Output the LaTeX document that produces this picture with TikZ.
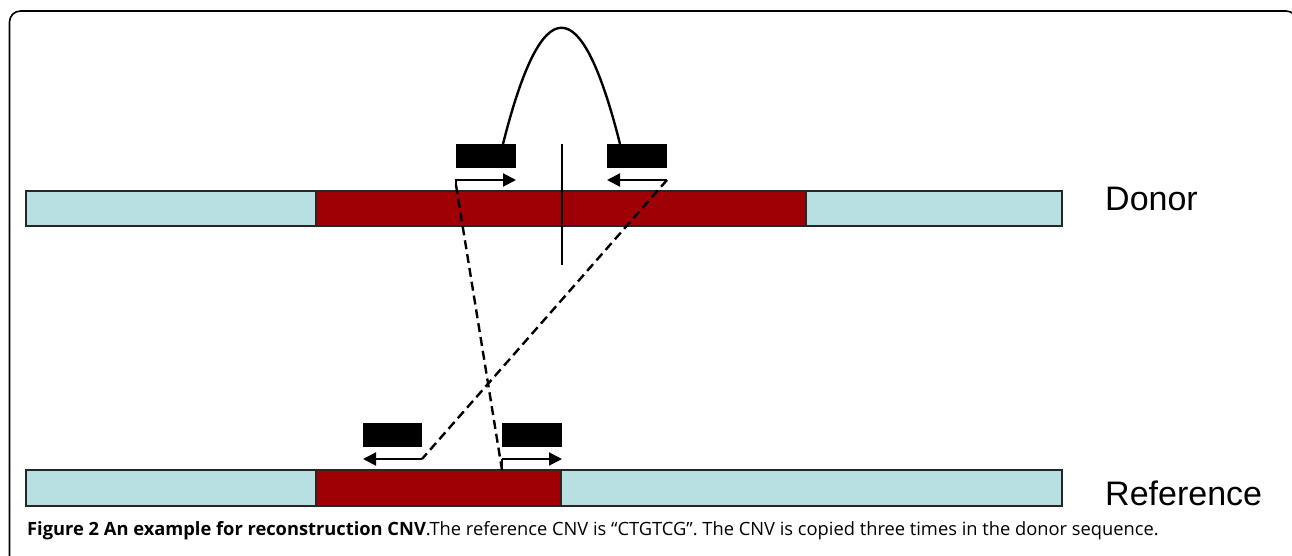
\documentclass[tikz,border=0pt]{standalone}
\usepackage{fontspec}
\setmainfont{Liberation Sans}
\newfontfamily\capfont{Open Sans}
\usetikzlibrary{arrows.meta}
\definecolor{seqblue}{RGB}{184,223,226}
\definecolor{cnvred}{RGB}{158,0,6}
\tikzset{
  seg/.style={draw=black!85, line width=1.5pt, anchor=north west, inner sep=0pt, outer sep=0pt},
  lightseg/.style={seg, fill=seqblue},
  redseg/.style={seg, fill=cnvred},
  readbox/.style={fill=black, anchor=north west, inner sep=0pt, outer sep=0pt, minimum width=60pt, minimum height=24pt},
  readarrow/.style={line width=2pt, -{Triangle[length=13pt,width=13pt]}},
  mapline/.style={line width=2.4pt, dash pattern=on 9pt off 5pt},
  label/.style={font=\fontsize{34}{40}\selectfont, anchor=base west, inner sep=0pt},
}
\begin{document}
\begin{tikzpicture}[x=1pt,y=-1pt]
\useasboundingbox (0,0) rectangle (1292,556);
% frame
\draw[line width=1.6pt, rounded corners=11pt] (9.5,560) -- (9.5,11) -- (1297,11) -- (1297,560);
% donor sequence
\node[lightseg, minimum width=290pt, minimum height=35pt] (d1) at (26,191) {};
\node[redseg, minimum width=490pt, minimum height=35pt] (d2) at (316,191) {};
\node[lightseg, minimum width=256pt, minimum height=35pt] (d3) at (806,191) {};
% reference sequence
\node[lightseg, minimum width=290pt, minimum height=36pt] (r1) at (26,470) {};
\node[redseg, minimum width=245pt, minimum height=36pt] (r2) at (316,470) {};
\node[lightseg, minimum width=501pt, minimum height=36pt] (r3) at (561,470) {};
% reads
\node[readbox] (dl) at (456,144) {};
\node[readbox] (dr) at (607,144) {};
\node[readbox, minimum width=59pt] (rl) at (363,423) {};
\node[readbox] (rr) at (502,423) {};
% breakpoint
\coordinate (bt) at (562,144);
\coordinate (bb) at (562,265);
\draw[line width=1.5pt] (bt) -- (bb);
% arc linking pair
\coordinate (al) at (503,144);
\coordinate (ar) at (620,144);
\draw[line width=2.4pt] (al) .. controls (542,-11) and (581,-11) .. (ar);
% arrows
\coordinate (dla) at (456,185);
\coordinate (dra) at (667,180);
\coordinate (rla) at (422,459);
\coordinate (rra) at (502,470);
\draw[readarrow] (dla) -- (456,180) -- (516,180);
\draw[readarrow] (dra) -- (607,180);
\draw[readarrow] (rla) -- (363,459);
\draw[readarrow] (502,459) -- (562,459);
\draw[line width=2pt] (502,459) -- (rra);
% mapping lines
\draw[mapline] (dla) -- (rra);
\draw[mapline] (dra) -- (rla);
% labels
\node[label] (donor) at (1105,210) {Donor};
\node[label] (ref) at (1105,505) {Reference};
% caption
\node[anchor=base west, inner sep=0pt, font=\capfont\fontsize{18.3}{21}\selectfont] (cap) at (27,535)
 {\textbf{Figure 2 An example for reconstruction CNV}.The reference CNV is “CTGTCG”. The CNV is copied three times in the donor sequence.};
\end{tikzpicture}
\end{document}
